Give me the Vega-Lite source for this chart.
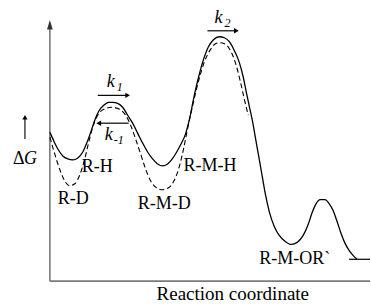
{
  "$schema": "https://vega.github.io/schema/vega-lite/v6.json",
  "width": 371,
  "height": 304,
  "padding": 0,
  "autosize": {"type": "fit", "contains": "padding"},
  "background": "white",
  "config": {"view": {"stroke": null}, "text": {"font": "Liberation Serif"}},
  "datasets": {
    "axes": [
      {"x": 50, "y": 283, "x2": 371, "y2": 283},
      {"x": 50, "y": 283, "x2": 50, "y2": 26}
    ],
    "axisHead": [{"x": 50, "y": 25}],
    "solid": [
      {"x": 50, "y": 133}, {"x": 54, "y": 142}, {"x": 58, "y": 150}, {"x": 63, "y": 157}, {"x": 68, "y": 160},
      {"x": 73, "y": 161}, {"x": 78, "y": 159}, {"x": 83, "y": 153}, {"x": 87, "y": 144}, {"x": 91, "y": 133},
      {"x": 95, "y": 121}, {"x": 99, "y": 112}, {"x": 104, "y": 106}, {"x": 109, "y": 103}, {"x": 113, "y": 103},
      {"x": 118, "y": 104}, {"x": 123, "y": 108}, {"x": 128, "y": 116}, {"x": 133, "y": 124}, {"x": 138, "y": 134},
      {"x": 143, "y": 144}, {"x": 148, "y": 153}, {"x": 153, "y": 160}, {"x": 158, "y": 165}, {"x": 163, "y": 167},
      {"x": 168, "y": 165}, {"x": 172, "y": 161}, {"x": 176, "y": 155}, {"x": 181, "y": 146}, {"x": 186, "y": 135},
      {"x": 190, "y": 120}, {"x": 194, "y": 100}, {"x": 199, "y": 78}, {"x": 204, "y": 60}, {"x": 209, "y": 47},
      {"x": 214, "y": 40}, {"x": 220, "y": 37}, {"x": 225, "y": 38}, {"x": 230, "y": 42}, {"x": 235, "y": 51},
      {"x": 240, "y": 63}, {"x": 244, "y": 78}, {"x": 247, "y": 93}, {"x": 250, "y": 107}, {"x": 253, "y": 121},
      {"x": 256, "y": 138}, {"x": 259, "y": 155}, {"x": 262, "y": 172}, {"x": 266, "y": 195}, {"x": 270, "y": 213},
      {"x": 275, "y": 228}, {"x": 280, "y": 237}, {"x": 286, "y": 243}, {"x": 292, "y": 246}, {"x": 298, "y": 244},
      {"x": 304, "y": 237}, {"x": 309, "y": 226}, {"x": 313, "y": 214}, {"x": 317, "y": 205}, {"x": 321, "y": 201},
      {"x": 326, "y": 201}, {"x": 330, "y": 205}, {"x": 334, "y": 212}, {"x": 338, "y": 223}, {"x": 342, "y": 235},
      {"x": 346, "y": 245}, {"x": 350, "y": 252}, {"x": 354, "y": 257}, {"x": 358, "y": 261}
    ],
    "dashed": [
      {"x": 50, "y": 138}, {"x": 54, "y": 152}, {"x": 58, "y": 165}, {"x": 62, "y": 176}, {"x": 66, "y": 184},
      {"x": 70, "y": 187}, {"x": 75, "y": 185}, {"x": 80, "y": 176}, {"x": 85, "y": 160}, {"x": 89, "y": 143},
      {"x": 93, "y": 128}, {"x": 98, "y": 116}, {"x": 104, "y": 110}, {"x": 112, "y": 108}, {"x": 120, "y": 110},
      {"x": 126, "y": 116}, {"x": 131, "y": 126}, {"x": 136, "y": 140}, {"x": 141, "y": 155}, {"x": 146, "y": 170},
      {"x": 151, "y": 182}, {"x": 157, "y": 189}, {"x": 163, "y": 191}, {"x": 169, "y": 189}, {"x": 175, "y": 181},
      {"x": 180, "y": 167}, {"x": 184, "y": 150}, {"x": 188, "y": 130}, {"x": 193, "y": 107}, {"x": 199, "y": 82},
      {"x": 205, "y": 62}, {"x": 211, "y": 50}, {"x": 216, "y": 44}, {"x": 220, "y": 43}, {"x": 225, "y": 44},
      {"x": 230, "y": 49}, {"x": 236, "y": 63}, {"x": 241, "y": 82}, {"x": 245, "y": 100}, {"x": 249, "y": 116}
    ],
    "flat": [{"x": 350, "y": 261, "x2": 371}],
    "arrows": [
      {"x": 98, "y": 96, "x2": 127},
      {"x": 100, "y": 124, "x2": 129},
      {"x": 208, "y": 31, "x2": 236}
    ],
    "headsRight": [{"x": 128, "y": 96}, {"x": 237, "y": 31}],
    "headsLeft": [{"x": 99, "y": 124}],
    "dgArrow": [{"x": 25, "y": 140, "y2": 119}],
    "dgHead": [{"x": 25, "y": 118}],
    "labels": [
      {"x": 82, "y": 173, "t": "R-H"},
      {"x": 58, "y": 205, "t": "R-D"},
      {"x": 138, "y": 210, "t": "R-M-D"},
      {"x": 184, "y": 172, "t": "R-M-H"},
      {"x": 260, "y": 266, "t": "R-M-OR`"},
      {"x": 13, "y": 165, "t": "Δ"}
    ],
    "title": [{"x": 157, "y": 302, "t": "Reaction coordinate"}],
    "italic": [
      {"x": 107, "y": 88, "t": "k"},
      {"x": 105, "y": 141, "t": "k"},
      {"x": 215, "y": 23, "t": "k"},
      {"x": 24, "y": 165, "t": "G"}
    ],
    "subs": [
      {"x": 117, "y": 92, "t": "1"},
      {"x": 114, "y": 145, "t": "-1"},
      {"x": 225, "y": 27, "t": "2"}
    ]
  },
  "encoding": {
    "x": {"field": "x", "type": "quantitative", "scale": {"domain": [0, 371], "nice": false, "zero": false}, "axis": null},
    "y": {"field": "y", "type": "quantitative", "scale": {"domain": [0, 304], "reverse": true, "nice": false, "zero": false}, "axis": null}
  },
  "layer": [
    {
      "data": {"name": "axes"},
      "mark": {"type": "rule", "color": "#7a7a7a", "strokeWidth": 1.6},
      "encoding": {"x2": {"field": "x2"}, "y2": {"field": "y2"}}
    },
    {
      "data": {"name": "axisHead"},
      "mark": {"type": "point", "shape": "M-0.6,1L0,-1L0.6,1Z", "filled": true, "color": "#333333", "size": 90, "opacity": 1},
      "encoding": {}
    },
    {
      "data": {"name": "dashed"},
      "mark": {"type": "line", "color": "black", "strokeWidth": 1.1, "strokeDash": [5, 3], "interpolate": "monotone"},
      "encoding": {}
    },
    {
      "data": {"name": "solid"},
      "mark": {"type": "line", "color": "black", "strokeWidth": 1.3, "interpolate": "monotone"},
      "encoding": {}
    },
    {
      "data": {"name": "flat"},
      "mark": {"type": "rule", "color": "black", "strokeWidth": 1.2},
      "encoding": {"x2": {"field": "x2"}}
    },
    {
      "data": {"name": "arrows"},
      "mark": {"type": "rule", "color": "black", "strokeWidth": 1.2},
      "encoding": {"x2": {"field": "x2"}}
    },
    {
      "data": {"name": "headsRight"},
      "mark": {"type": "point", "shape": "triangle-right", "filled": true, "color": "black", "size": 30, "opacity": 1},
      "encoding": {}
    },
    {
      "data": {"name": "headsLeft"},
      "mark": {"type": "point", "shape": "triangle-left", "filled": true, "color": "black", "size": 30, "opacity": 1},
      "encoding": {}
    },
    {
      "data": {"name": "dgArrow"},
      "mark": {"type": "rule", "color": "black", "strokeWidth": 1.1},
      "encoding": {"y2": {"field": "y2"}}
    },
    {
      "data": {"name": "dgHead"},
      "mark": {"type": "point", "shape": "triangle-up", "filled": true, "color": "black", "size": 26, "opacity": 1},
      "encoding": {}
    },
    {
      "data": {"name": "labels"},
      "mark": {"type": "text", "fontSize": 18, "align": "left", "baseline": "alphabetic", "color": "black"},
      "encoding": {"text": {"field": "t"}}
    },
    {
      "data": {"name": "title"},
      "mark": {"type": "text", "fontSize": 19, "align": "left", "baseline": "alphabetic", "color": "black"},
      "encoding": {"text": {"field": "t"}}
    },
    {
      "data": {"name": "italic"},
      "mark": {"type": "text", "fontSize": 18, "fontStyle": "italic", "align": "left", "baseline": "alphabetic", "color": "black"},
      "encoding": {"text": {"field": "t"}}
    },
    {
      "data": {"name": "subs"},
      "mark": {"type": "text", "fontSize": 12, "fontStyle": "italic", "align": "left", "baseline": "alphabetic", "color": "black"},
      "encoding": {"text": {"field": "t"}}
    }
  ]
}
